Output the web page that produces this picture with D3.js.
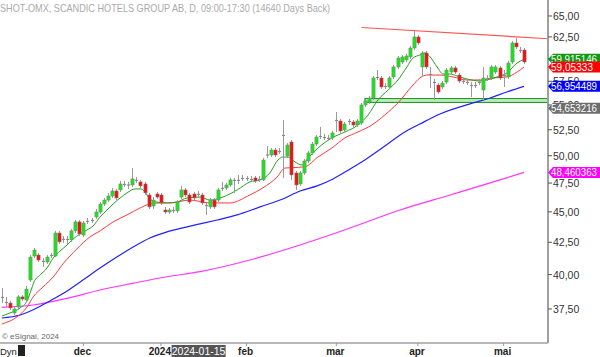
<!DOCTYPE html>
<html><head><meta charset="utf-8">
<script src="https://cdn.jsdelivr.net/npm/d3@7"></script>
<style>body{margin:0;background:#fff;overflow:hidden}svg{display:block}text{font-family:Arial,"Liberation Sans",sans-serif}</style>
</head><body><svg id="c" width="600" height="357"></svg>
<script>
// ---- data (daily candles, SHOT-OMX) ----
const opens=[38.32,37.96,37.92,37.22,37.64,38.36,38.14,39.60,41.42,41.50,41.00,40.96,41.46,41.42,43.25,42.73,42.73,42.69,43.42,44.16,43.09,44.20,44.28,44.57,44.99,45.67,46.01,46.36,46.80,46.89,47.37,47.33,47.33,47.74,47.60,47.42,46.45,45.50,46.54,46.45,45.16,44.99,45.12,45.08,46.27,46.89,46.45,46.54,46.50,46.45,45.54,45.42,46.01,46.01,47.02,47.07,47.33,47.74,47.74,47.91,47.91,47.82,47.96,47.82,47.78,50.07,50.07,50.54,50.40,51.94,49.98,51.31,48.41,47.42,48.41,49.51,50.26,51.11,51.84,51.74,51.65,51.70,53.42,53.37,52.48,53.32,53.27,52.97,53.17,55.00,55.31,55.73,57.91,57.86,56.94,56.89,57.97,59.07,59.62,59.85,60.19,61.21,62.49,59.07,60.64,58.24,57.37,57.10,56.89,57.42,58.51,58.96,58.18,57.48,57.37,57.05,57.05,57.37,56.57,57.80,57.86,58.51,58.96,58.12,57.97,59.62,61.79,60.92,60.98];
const highs=[39.01,38.36,38.07,37.64,38.50,38.50,39.16,41.50,42.05,41.66,41.26,41.50,41.66,43.42,43.42,43.01,43.01,43.58,44.32,44.32,44.24,44.49,44.49,45.25,45.84,46.19,46.63,47.07,46.98,47.69,47.69,47.60,48.86,48.05,47.78,47.60,46.63,46.27,46.71,46.63,45.42,45.33,45.42,46.01,47.25,47.07,46.63,46.71,46.80,46.63,45.76,46.19,46.19,47.07,47.60,47.51,47.96,47.96,48.23,48.23,48.14,48.14,48.14,48.14,49.79,50.92,50.73,50.73,50.73,53.47,51.21,51.50,48.59,48.59,49.70,50.45,51.31,51.99,52.78,52.09,51.99,52.38,54.28,53.57,53.27,53.57,53.47,53.57,55.21,55.62,55.94,58.07,58.73,58.07,57.31,58.07,59.29,60.30,60.41,60.53,61.44,63.19,62.72,60.87,60.87,59.07,57.75,57.31,57.53,58.96,59.18,59.18,58.40,57.86,57.75,57.42,57.42,57.75,59.07,58.18,59.29,59.29,59.18,58.73,59.74,62.02,62.37,61.33,61.21];
const lows=[37.92,37.64,37.43,37.08,37.50,38.07,38.00,39.45,41.26,40.96,40.58,40.81,41.26,41.34,42.37,42.45,42.37,42.53,43.25,43.01,42.93,43.99,44.07,44.40,44.82,45.50,45.84,46.19,46.01,46.71,47.16,46.98,47.16,47.51,47.07,46.45,45.25,45.25,46.10,45.59,44.82,44.82,44.91,44.91,46.10,46.27,45.67,46.01,46.27,45.59,44.74,45.25,45.25,45.84,46.80,46.89,47.16,46.63,47.42,47.69,47.69,47.60,47.51,47.60,47.69,49.79,49.88,49.88,50.16,47.96,49.79,47.78,46.89,47.25,48.23,49.32,50.07,50.92,51.60,51.50,51.41,51.50,52.28,52.19,52.28,52.97,52.78,52.78,52.97,54.79,55.10,55.52,57.64,56.68,56.68,56.68,57.75,58.84,59.40,59.62,59.96,60.98,61.56,57.97,58.84,56.78,55.52,56.15,56.68,57.21,58.29,58.29,57.31,57.21,57.10,55.83,56.78,57.10,55.52,57.53,57.64,58.29,57.64,56.89,57.75,59.40,61.10,60.64,59.40];
const closes=[38.32,37.96,37.57,37.50,38.36,38.21,38.93,41.34,41.89,41.11,41.00,41.34,41.46,43.25,42.53,42.73,42.73,43.42,44.16,43.17,44.07,44.20,44.28,44.99,45.67,46.01,46.36,46.80,46.19,47.42,47.37,47.33,47.87,47.74,47.25,46.63,45.42,46.01,46.27,45.76,44.99,45.16,45.12,45.84,46.89,46.45,45.84,46.19,46.50,45.76,45.54,46.01,45.42,46.89,47.02,47.33,47.78,47.74,47.74,47.91,47.91,47.82,47.69,47.82,49.60,50.07,50.54,50.07,50.40,51.94,51.02,48.23,47.33,48.41,49.51,50.26,51.11,51.79,51.84,51.74,51.65,52.19,53.42,52.38,53.07,53.32,52.97,53.37,55.00,55.42,55.73,57.86,57.91,56.89,56.94,57.86,59.07,60.07,60.19,60.30,61.21,62.49,61.79,60.64,59.07,58.24,57.37,56.36,57.31,58.73,58.96,58.51,57.53,57.48,57.37,57.05,57.05,57.37,57.86,57.80,59.07,59.07,57.86,58.12,59.51,61.79,61.33,60.92,59.62];

// moving averages read at sampled bars
const maFastIdx=[0,2,4.5,6.2,7.2,7.9,9.4,11.1,12.6,14.3,16,17.5,19.2,20.9,22.4,24.1,25.8,27.3,29,30.7,32.7,34.1,35.1,36.3,38,40.5,42.9,45.4,48.6,51,54.2,57.7,60.8,63.3,65.7,67.7,68.9,70.2,71.9,73.6,75.1,77.5,80.9,84.1,87.3,89.8,92.2,94.7,97.1,99.3,100.8,102.5,103.7,105,106.7,108.2,109.9,111.6,114,117.2,118.9,121.4,123.8,126.3,128];
const maFastVal=[37.01,37.22,37.57,38.07,38.86,39.45,39.97,40.50,41.26,41.81,42.29,42.77,43.17,43.50,43.83,44.57,45.16,45.67,46.19,46.63,46.98,46.98,46.71,46.10,45.84,45.76,45.84,46.19,46.27,46.01,46.27,46.89,47.60,47.78,48.41,49.60,49.88,49.88,49.42,49.14,49.79,50.73,51.70,52.28,52.97,53.98,55.52,56.57,57.64,59.07,60.07,60.41,60.64,60.19,59.07,58.29,58.29,58.07,57.75,57.53,57.64,57.97,58.40,59.51,59.915146];
const maMidIdx=[0,3.7,6.2,7.7,10.1,12.6,15,18.4,21.6,24.1,27.3,30.7,33.9,36.3,38.8,41.2,46.1,51,55.9,60.8,64,67.5,69.4,71.1,74.3,77.5,80.9,84.1,87.3,90.7,93.9,97.1,100.8,102.5,104.2,107.4,110.6,114,117.2,120.4,123.8,126.3,128];
const maMidVal=[36.46,36.94,37.64,38.36,39.08,39.82,40.81,41.97,42.93,43.42,44.16,44.74,45.33,45.67,45.76,45.76,46.01,45.76,45.76,46.45,47.07,48.05,48.86,48.89,48.98,49.88,50.73,51.70,52.28,52.97,53.98,55.21,57.10,57.86,58.18,58.18,57.97,57.64,57.64,57.86,57.97,58.51,59.05333];
const maSlowIdx=[0,4.5,8.1,11.8,16,19.9,24.1,28.2,32.2,36.3,40.5,44.4,48.6,52.8,57.7,63.3,68.9,73.1,77.3,81.2,85.4,89,93.2,98.8,102.5,107.4,115.5,119.7,123.8,128];
const maSlowVal=[36.87,37.08,37.50,38.07,38.79,39.60,40.50,41.34,42.13,42.85,43.34,43.67,43.99,44.32,44.74,45.42,46.10,46.80,47.25,47.87,48.77,49.60,50.73,52.28,53.07,54.08,55.21,55.73,56.36,56.954489];
const maLongIdx=[0,7.7,16,24.1,32.2,40.5,48.6,60.8,73.1,85.4,97.6,109.9,122.1,128];
const maLongVal=[37.62,37.78,38.26,38.86,39.36,39.84,40.22,41.11,42.29,43.66,45.16,46.45,47.78,48.460363];

// support band and resistance trend line
const bandStartIdx=89, bandLow=55.26, bandHigh=55.67;
const trendIdx=[88.2,133.9], trendVal=[63.61,62.28];

const tagValues=[59.915146,59.05333,56.954489,54.653216,48.460363];
const tagLabels=["59,915146","59,05333","56,954489","54,653216","48,460363"];
const yTickValues=[37.5,40,42.5,45,47.5,50,52.5,55,57.5,60,62.5,65];
const monthLabels=["dec","2024","feb","mar","apr","mai"];
const monthIdx=[20,39,60,82,102,123];
const cursorLabel="2024-01-15", cursorIdx=48;

// ---- drawing ----
const svg=d3.select("#c");
const W=548,H=343;
const x=d3.scaleLinear().domain([0,128]).range([1.76,524]);
const y=d3.scaleLog().domain([35.18,66.98]).range([H,0]);
const tagColors=["#0f9a0f","#ff0000","#0000ff","#6e6e6e","#ff00ff"];

svg.append("defs").append("clipPath").attr("id","pc").append("rect").attr("x",0).attr("y",0).attr("width",W).attr("height",H);
const g=svg.append("g").attr("clip-path","url(#pc)");

// band
g.append("rect").attr("x",x(bandStartIdx)).attr("y",y(bandHigh)).attr("width",W-x(bandStartIdx)).attr("height",y(bandLow)-y(bandHigh))
 .attr("fill","rgba(60,190,60,0.35)").attr("stroke","#1a9a1a").attr("stroke-width",1);

// moving averages
function maLine(idx,val,color,w){
  const pts=idx.map((d,i)=>[d,val[i]]);
  g.append("path").datum(pts).attr("fill","none").attr("stroke",color).attr("stroke-width",w)
   .attr("d",d3.line().x(d=>x(d[0])).y(d=>y(d[1])).curve(d3.curveMonotoneX));
}
maLine(maLongIdx,maLongVal,"#ff33ff",1.2);
maLine(maSlowIdx,maSlowVal,"#2020ff",1.2);
maLine(maMidIdx,maMidVal,"#ff3a3a",1);
maLine(maFastIdx,maFastVal,"#22a022",1);

// trend line
g.append("line").attr("x1",x(trendIdx[0])).attr("y1",y(trendVal[0])).attr("x2",x(trendIdx[1])).attr("y2",y(trendVal[1]))
 .attr("stroke","#ff5555").attr("stroke-width",1.2);

// candles
const cg=g.append("g");
opens.forEach((o,i)=>{
  const c=closes[i],cx=Math.round(x(i))+0.5;
  cg.append("line").attr("x1",cx).attr("x2",cx).attr("y1",y(highs[i])).attr("y2",y(lows[i])).attr("stroke","#9a9a9a").attr("stroke-width",1);
  const top=y(Math.max(o,c)),bot=y(Math.min(o,c));
  if(o===c){
    cg.append("line").attr("x1",cx-1.5).attr("x2",cx+1.5).attr("y1",top).attr("y2",top).attr("stroke","#8a8a8a").attr("stroke-width",1.2);
  } else {
    cg.append("rect").attr("x",cx-1.6).attr("y",top).attr("width",3.2).attr("height",Math.max(1,bot-top))
      .attr("fill",c>o?"#19e619":"#f01010").attr("stroke","#7d7d7d").attr("stroke-width",0.5);
  }
});

// axes lines
svg.append("line").attr("x1",W).attr("x2",W).attr("y1",0).attr("y2",H).attr("stroke","#a0a0a0").attr("stroke-width",2);
svg.append("line").attr("x1",0).attr("x2",W).attr("y1",H).attr("y2",H).attr("stroke","#a0a0a0").attr("stroke-width",1.5);

// y ticks
const fmt=v=>d3.format(".2f")(v).replace(".",",");
yTickValues.forEach(v=>{
  const yy=y(v);
  svg.append("line").attr("x1",W).attr("x2",W+4).attr("y1",yy).attr("y2",yy).attr("stroke","#555");
  svg.append("text").attr("x",W+5).attr("y",yy+4).attr("font-size",10.5).attr("fill","#333").text(fmt(v));
});

// value tags
tagValues.forEach((v,i)=>{
  const cy=y(v);
  svg.append("path").attr("d",`M${W},${cy} L${W+5},${cy-5.5} L600,${cy-5.5} L600,${cy+5.5} L${W+5},${cy+5.5} Z`).attr("fill",tagColors[i]);
  svg.append("text").attr("x",W+3).attr("y",cy+4).attr("font-size",10.5).attr("fill","#fff")
    .attr("textLength",tagLabels[i].length>8?46:42).attr("lengthAdjust","spacingAndGlyphs").text(tagLabels[i]);
});

// x ticks
monthLabels.forEach((m,i)=>{
  const xx=x(monthIdx[i]);
  svg.append("line").attr("x1",xx).attr("x2",xx).attr("y1",H).attr("y2",H+3).attr("stroke","#999");
  svg.append("text").attr("x",xx-1).attr("y",355).attr("text-anchor","middle").attr("font-size",10).attr("font-weight","bold").attr("fill","#222").text(m);
});
// cursor date label
const cxp=x(cursorIdx);
svg.append("rect").attr("x",cxp-26).attr("y",345).attr("width",54).attr("height",12).attr("fill","#555");
svg.append("text").attr("x",cxp+1).attr("y",355).attr("text-anchor","middle").attr("font-size",10.5).attr("fill","#fff").text(cursorLabel);

// footer / title
svg.append("text").attr("x",0).attr("y",355).attr("font-size",9.5).attr("fill","#222").text("Dyn");
svg.append("rect").attr("x",18).attr("y",345).attr("width",7).attr("height",11).attr("fill","#222");
svg.append("text").attr("x",2).attr("y",339).attr("font-size",8).attr("fill","#666").text("© eSignal, 2024");
svg.append("text").attr("x",0).attr("y",12).attr("font-size",10.5).attr("fill","#aaa")
  .attr("textLength",330).attr("lengthAdjust","spacingAndGlyphs").text("SHOT-OMX, SCANDIC HOTELS GROUP AB, D, 09:00-17:30 (14640 Days Back)");
</script></body></html>
